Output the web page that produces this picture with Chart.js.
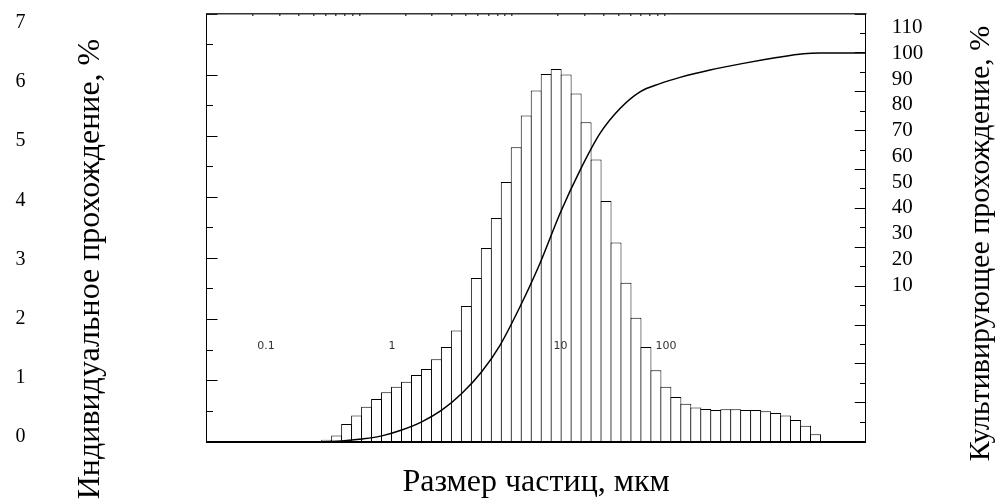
<!DOCTYPE html>
<html>
<head>
<meta charset="utf-8">
<script src="https://cdn.jsdelivr.net/npm/chart.js@4.4.1/dist/chart.umd.min.js"></script>
<style>
  html, body { margin: 0; padding: 0; background: #fff; }
  #wrap { position: relative; width: 998px; height: 500px; }
</style>
</head>
<body>
<div id="wrap"><canvas id="c"></canvas></div>
<script>
// Particle size classes, µm (bin centres, log-spaced)
const sizeBins = [
  0.6115, 0.7107, 0.8260, 0.9601, 1.116, 1.297, 1.507, 1.752, 2.036, 2.366,
  2.750, 3.197, 3.715, 4.318, 5.019, 5.833, 6.779, 7.879, 9.158, 10.64,
  12.37, 14.38, 16.71, 19.42, 22.57, 26.24, 30.49, 35.44, 41.19, 47.87,
  55.64, 64.67, 75.16, 87.35, 101.5, 118.0, 137.1, 159.4, 185.3, 215.3,
  250.3, 290.9, 338.0, 392.9, 456.6, 530.7, 616.8, 716.9, 833.2, 968.4
];

// Individual passing per size class, %
const individualPassing = [
  0.03, 0.10, 0.29, 0.43, 0.57, 0.70, 0.81, 0.90, 0.98, 1.09,
  1.19, 1.35, 1.55, 1.82, 2.22, 2.68, 3.17, 3.66, 4.25, 4.82,
  5.34, 5.75, 6.02, 6.10, 6.01, 5.70, 5.23, 4.62, 3.94, 3.26,
  2.60, 2.03, 1.55, 1.17, 0.90, 0.73, 0.62, 0.56, 0.535, 0.52,
  0.53, 0.53, 0.52, 0.52, 0.50, 0.47, 0.43, 0.355, 0.26, 0.12
];

// Cumulative passing curve: size, µm and passing, %
const cumulativeSizes = [
  0.1, 0.567, 0.767, 1.037, 1.402, 1.895, 2.561, 3.462, 4.679, 6.324,
  8.333, 11.26, 15.23, 20.58, 27.82, 37.61, 50.84, 68.71, 92.88, 125.6,
  197.4, 326.0, 539.1, 805.0, 1035, 2061
];
const cumulativePassing = [
  0, 0, 0.2, 0.7, 1.5, 3.0, 5.1, 8.1, 12.4, 18.0,
  24.8, 34.7, 45.9, 58.7, 69.8, 79.3, 85.7, 90.0, 92.1, 93.7,
  95.6, 97.3, 98.8, 99.8, 100, 100
];

// Tick labels
const leftTickLabels = [0, 1, 2, 3, 4, 5, 6, 7];
const rightTickLabels = [10, 20, 30, 40, 50, 60, 70, 80, 90, 100, 110];
const sizeMarkLabels = ['0.1', '1', '10', '100'];
const topMinorTicks = [
  0.2, 0.3, 0.4, 0.5, 0.6, 0.7, 0.8, 0.9, 1,
  2, 3, 4, 5, 6, 7, 8, 9, 10,
  20, 30, 40, 50, 60, 70, 80, 90, 100
];

// ---- layout settings ----
const X_MIN = 0.1, X_MAX = 2061;
const sizeMarkSpots = [0.0903, 0.2814, 0.5370, 0.6971]; // fraction of the plot width
const SERIF = "'Liberation Serif', 'Times New Roman', serif";

Chart.defaults.font.family = SERIF;
Chart.defaults.color = '#000';

const zeroPad = (s) => { s.paddingLeft = 0; s.paddingRight = 0; s.paddingTop = 0; s.paddingBottom = 0; };
const ticksFrom = (arr) => (s) => { s.ticks = arr.map(v => ({ value: v })); };

// Rotated axis titles are moved to their final spots once the layout is known
const axisTitlePlacement = {
  id: 'axisTitlePlacement',
  afterLayout(chart) {
    const place = (id, x, top, bottom) => {
      const s = chart.scales[id];
      s.left = x; s.right = x; s.top = top; s.bottom = bottom;
    };
    place('titleLeft', 75, 38, 500);
    place('titleRight', 966.5, 25, 462);
  }
};

const hiddenTicks = { display: false };

new Chart(document.getElementById('c'), {
  type: 'bar',
  data: {
    datasets: [
      {
        type: 'line',
        label: 'Культивирующее прохождение',
        data: cumulativeSizes.map((s, i) => ({ x: s, y: cumulativePassing[i] })),
        xAxisID: 'x',
        yAxisID: 'yc',
        borderColor: '#000',
        borderWidth: 1.5,
        pointRadius: 0,
        fill: false,
        cubicInterpolationMode: 'monotone',
        order: 0
      },
      {
        type: 'bar',
        label: 'Индивидуальное прохождение',
        data: sizeBins.map((s, i) => ({ x: s, y: individualPassing[i] })),
        xAxisID: 'x',
        yAxisID: 'y',
        backgroundColor: '#fff',
        borderColor: '#000',
        borderWidth: 1,
        categoryPercentage: 1,
        barPercentage: 1.1,
        order: 1
      }
    ]
  },
  options: {
    responsive: true,
    maintainAspectRatio: false,
    animation: false,
    devicePixelRatio: 1,
    layout: { padding: 0 },
    plugins: { legend: { display: false }, tooltip: { enabled: false }, title: { display: false } },
    scales: {
      x: {
        type: 'logarithmic', axis: 'x', position: 'bottom',
        min: X_MIN, max: X_MAX, offset: false,
        afterBuildTicks: ticksFrom([X_MIN, X_MAX]),
        ticks: hiddenTicks,
        grid: { display: false, offset: false },
        border: { display: true, color: '#000', width: 2, z: 1 },
        title: {
          display: true, text: 'Размер частиц, мкм', color: '#000',
          font: { family: SERIF, size: 32, lineHeight: 1 },
          padding: { top: 0, bottom: 1 }
        },
        afterFit: (s) => { s.height = 58.3; zeroPad(s); }
      },
      xTop: {
        type: 'logarithmic', axis: 'x', position: 'top',
        min: X_MIN, max: X_MAX, offset: false,
        afterBuildTicks: ticksFrom(topMinorTicks),
        ticks: hiddenTicks,
        grid: { display: true, offset: false, drawOnChartArea: false, tickLength: -2, color: '#444', lineWidth: 1.5 },
        border: { display: true, color: '#333', width: 1.5 },
        afterFit: (s) => { s.height = 14; zeroPad(s); }
      },
      xLab: {
        type: 'linear', axis: 'x', position: { y: 1.666 },
        min: 0, max: 1, offset: false,
        afterBuildTicks: ticksFrom(sizeMarkSpots),
        ticks: {
          display: true, autoSkip: false, maxRotation: 0, minRotation: 0, padding: 0, z: 1,
          color: '#333', font: { family: "'DejaVu Sans', Verdana, sans-serif", size: 11 },
          callback: (v, i) => sizeMarkLabels[i]
        },
        grid: { display: false, drawTicks: false, offset: false },
        border: { display: false },
        afterFit: zeroPad
      },
      y: {
        type: 'linear', axis: 'y', position: 'left', weight: 0,
        min: 0, max: 7,
        ticks: { display: false, stepSize: 1 },
        grid: { display: true, drawOnChartArea: false, tickLength: -11, color: '#000', lineWidth: 1 },
        border: { display: true, color: '#000', width: 1 },
        afterFit: (s) => { s.width = 178; zeroPad(s); }
      },
      yShort: {
        type: 'linear', axis: 'y', position: { x: X_MIN },
        min: 0, max: 7,
        ticks: { display: false, stepSize: 0.5 },
        grid: { display: true, drawOnChartArea: false, tickLength: -6, color: '#000', lineWidth: 1 },
        border: { display: false },
        afterFit: zeroPad
      },
      yl: {
        type: 'linear', axis: 'y', position: 'left', weight: 2,
        min: -0.0898, max: 7.1556,
        afterBuildTicks: ticksFrom(leftTickLabels),
        ticks: { display: true, autoSkip: false, padding: 3, color: '#000', font: { family: SERIF, size: 20 } },
        grid: { display: false, drawTicks: false },
        border: { display: false },
        afterFit: (s) => { s.width = 28.5; zeroPad(s); }
      },
      titleLeft: {
        type: 'linear', axis: 'y', position: 'left', weight: 1,
        min: 0, max: 1,
        ticks: hiddenTicks,
        grid: { display: false, drawTicks: false },
        border: { display: false },
        title: {
          display: true, text: 'Индивидуальное прохождение, %', color: '#000',
          font: { family: SERIF, size: 32, lineHeight: 1 }, padding: 0
        },
        afterFit: (s) => { s.width = 0; zeroPad(s); }
      },
      titleRight: {
        type: 'linear', axis: 'y', position: 'left', weight: 3,
        min: 0, max: 1,
        ticks: hiddenTicks,
        grid: { display: false, drawTicks: false },
        border: { display: false },
        title: {
          display: true, text: 'Культивирующее прохождение, %', color: '#000',
          font: { family: SERIF, size: 30, lineHeight: 1 }, padding: 0
        },
        afterFit: (s) => { s.width = 0; zeroPad(s); }
      },
      yc: {
        type: 'linear', axis: 'y', position: 'right', weight: 0,
        min: 0, max: 110,
        ticks: { display: false, stepSize: 10 },
        grid: { display: true, drawOnChartArea: false, tickLength: -11, color: '#000', lineWidth: 1 },
        border: { display: true, color: '#000', width: 1 },
        afterFit: (s) => { s.width = 23; zeroPad(s); }
      },
      ycShort: {
        type: 'linear', axis: 'y', position: { x: X_MAX },
        min: 0, max: 110,
        ticks: { display: false, stepSize: 5 },
        grid: { display: true, drawOnChartArea: false, tickLength: 6, color: '#000', lineWidth: 1 },
        border: { display: false },
        afterFit: zeroPad
      },
      yrl: {
        type: 'linear', axis: 'y', position: 'right', weight: 1,
        min: -50.854, max: 115.243,
        afterBuildTicks: ticksFrom(rightTickLabels),
        ticks: { display: true, autoSkip: false, padding: 3, color: '#000', font: { family: SERIF, size: 21 } },
        grid: { display: false, drawTicks: false },
        border: { display: false },
        afterFit: (s) => { s.width = 109.3; zeroPad(s); }
      }
    }
  },
  plugins: [axisTitlePlacement]
});
</script>
</body>
</html>
